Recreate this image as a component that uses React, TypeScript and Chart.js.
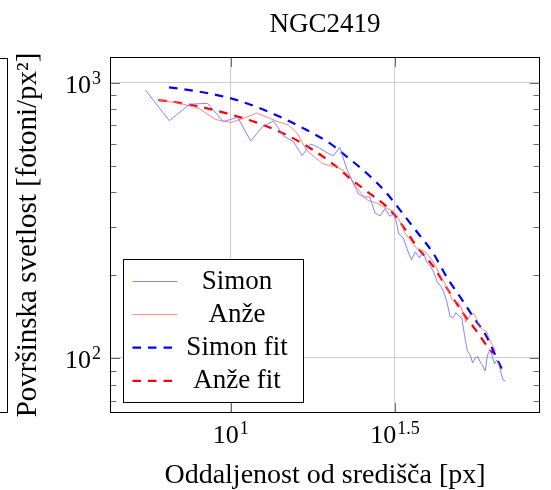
import React, { useEffect, useRef } from 'react';
import { Chart, registerables } from 'chart.js';

Chart.register(...registerables);

const FONT = "'Liberation Serif', 'Times New Roman', serif";

// ---- data ----
const simonRadius = [
  5.5, 6.5, 7.5, 8.5, 9.5, 10.5, 11.5, 12.5, 13.5, 14.5, 15.5, 16.5, 17.5, 18.5, 19.5, 20.5,
  21.5, 22.5, 23.5, 24.5, 25.5, 26.5, 27.5, 28.5, 29.5, 30.5, 31.5, 32.5, 33.5, 34.5, 35.5, 36.5,
  37.5, 38.5, 39.5, 40.5, 41.5, 42.5, 43.5, 44.5, 45.5, 46.5, 47.5, 48.5, 49.5, 50.5, 51.5, 52.5,
  53.5, 54.5, 55.5, 56.5, 57.5, 58.5, 59.5, 60.5, 61.5, 62.5, 63.5, 64.5, 65.5, 66.5, 67.5, 68.5,
];
const simonBrightness = [
  941, 728, 835, 842, 722, 749, 614, 692, 726, 640, 611, 544, 599, 582, 560, 542,
  582, 490, 436, 394, 384, 385, 336, 328, 349, 327, 336, 282, 273, 247, 227, 243,
  231, 243, 223, 216, 205, 189, 183, 174, 160, 142, 140, 146, 142, 140, 121, 106,
  103, 95.9, 100, 101, 96.7, 93.5, 89.7, 102.5, 107, 101.7, 95.1, 98.3, 95.1, 88.2, 83.2, 82.5,
];
const anzeRadius = [
  6, 7, 8, 9, 10, 11, 12, 13, 14, 15, 16, 17, 18, 19, 20, 21, 22, 23, 24, 25,
  26, 27, 28, 29, 30, 31, 32, 33, 34, 35, 36, 37, 38, 39, 40, 41, 42, 43, 44, 45,
  46, 47, 48, 49, 50, 51, 52, 53, 54, 55, 56, 57, 58, 59, 60, 61, 62, 63, 64,
];
const anzeBrightness = [
  865, 842, 806, 735, 717, 744, 776, 747, 720, 702, 651, 569, 537, 509, 500, 495, 480, 458, 421, 396,
  375, 369, 364, 355, 349, 343, 331, 307, 283, 271, 259, 249, 246, 244, 235, 227, 216, 204, 194, 186,
  175, 165, 160, 160, 155, 146, 135, 140, 144, 145, 139, 131, 128, 126, 125, 119, 114, 110, 106,
];
const simonFitRadius = [
  6.49, 7.69, 8.85, 10.43, 12.28, 14.13, 17.03, 20.05, 22.54, 25.94, 29.83, 32.74, 36.81, 41.36,
  45.43, 49.86, 54.74, 60.14, 64.5, 68.04,
];
const simonFitBrightness = [
  962, 935, 908, 865, 807, 752, 673, 602, 539, 469, 397, 345, 288, 240, 197, 167, 141, 119.5, 99.8, 87.5,
];
const anzeFitRadius = [
  6.02, 6.93, 7.88, 9.72, 12.0, 14.8, 17.84, 21.01, 23.07, 25.62, 30.53, 34.33, 36.81, 41.36,
  46.5, 51.05, 56.07, 61.53, 62.97,
];
const anzeFitBrightness = [
  865, 846, 823, 774, 716, 646, 569, 495, 449, 408, 345, 288, 254, 215, 172, 145, 125, 107, 104,
];

const seriesLabels = ['Simon', 'Anže', 'Simon fit', 'Anže fit'];
const chartTitle = 'NGC2419';
const xTitle = 'Oddaljenost od središča [px]';
const yTitle = 'Površinska svetlost [fotoni/px²]';

const xTickValues = [10, 31.6227766];
const xTickBase = ['10', '10'];
const xTickExponents = ['1', '1.5'];
const yTickValues = [100, 1000];
const yTickBase = ['10', '10'];
const yTickExponents = ['2', '3'];
const yMinorTickValues = [70, 80, 90, 200, 300, 400, 500, 600, 700, 800, 900];
const xRange = [4.29, 87.4];
const yRange = [63.1, 1240];

const pts = (xs: number[], ys: number[]) => xs.map((x, i) => ({ x, y: ys[i] }));

function drawPower(ctx: CanvasRenderingContext2D, base: string, exp: string, x: number, baseline: number, align: 'center' | 'right') {
  ctx.font = `26px ${FONT}`;
  const wb = ctx.measureText(base).width;
  ctx.font = `18px ${FONT}`;
  const we = ctx.measureText(exp).width;
  const total = wb + we + 1;
  const sx = align === 'center' ? x - total / 2 : x - total;
  ctx.textAlign = 'left';
  ctx.textBaseline = 'alphabetic';
  ctx.font = `26px ${FONT}`;
  ctx.fillText(base, sx, baseline);
  ctx.font = `18px ${FONT}`;
  ctx.fillText(exp, sx + wb + 1, baseline - 9);
}

const decorPlugin = {
  id: 'decor',
  afterDatasetsDraw(chart: any) {
    const { ctx, chartArea: ca, scales } = chart;
    const xs = scales.x;
    const ys = scales.y;
    ctx.save();
    // tick marks (inward, both sides)
    ctx.lineWidth = 1;
    ctx.strokeStyle = '#6a6a6a';
    const hTick = (v: number, len: number) => {
      const py = Math.round(ys.getPixelForValue(v)) + 0.5;
      ctx.beginPath();
      ctx.moveTo(ca.left, py);
      ctx.lineTo(ca.left + len, py);
      ctx.moveTo(ca.right, py);
      ctx.lineTo(ca.right - len, py);
      ctx.stroke();
    };
    yMinorTickValues.forEach((v) => hTick(v, 6.5));
    yTickValues.forEach((v) => hTick(v, 10));
    xTickValues.forEach((v) => {
      const px = Math.round(xs.getPixelForValue(v)) + 0.5;
      ctx.beginPath();
      ctx.moveTo(px, ca.bottom);
      ctx.lineTo(px, ca.bottom - 10);
      ctx.moveTo(px, ca.top);
      ctx.lineTo(px, ca.top + 10);
      ctx.stroke();
    });
    // axis box
    ctx.strokeStyle = '#000';
    ctx.strokeRect(Math.round(ca.left) + 0.5, Math.round(ca.top) + 0.5, Math.round(ca.right - ca.left) - 1, Math.round(ca.bottom - ca.top) - 1);
    // tick labels
    ctx.fillStyle = '#000';
    xTickValues.forEach((v, i) => {
      drawPower(ctx, xTickBase[i], xTickExponents[i], xs.getPixelForValue(v), ca.bottom + 30, 'center');
    });
    yTickValues.forEach((v, i) => {
      drawPower(ctx, yTickBase[i], yTickExponents[i], ca.left - 9, ys.getPixelForValue(v) + 10, 'right');
    });
    // legend
    const bw = 180;
    const bh = 143;
    const bx = Math.round(ca.left + 12.5) + 0.5;
    const by = Math.round(ca.bottom - 11.5 - bh) + 0.5;
    ctx.fillStyle = '#fff';
    ctx.fillRect(bx, by, bw, bh);
    ctx.strokeStyle = '#000';
    ctx.lineWidth = 1;
    ctx.setLineDash([]);
    ctx.strokeRect(bx, by, bw, bh);
    chart.data.datasets.forEach((ds: any, i: number) => {
      const ry = by + 22 + i * 33.1;
      ctx.save();
      ctx.strokeStyle = ds.borderColor;
      ctx.lineWidth = ds.borderWidth;
      ctx.setLineDash(ds.borderDash || []);
      ctx.beginPath();
      ctx.moveTo(bx + 9, ry);
      ctx.lineTo(bx + 54, ry);
      ctx.stroke();
      ctx.restore();
      ctx.fillStyle = '#000';
      ctx.font = `27px ${FONT}`;
      ctx.textAlign = 'center';
      ctx.textBaseline = 'alphabetic';
      ctx.fillText(ds.label, bx + 113.5, ry + 7);
    });
    ctx.restore();
  },
};

export default function App() {
  const ref = useRef<HTMLCanvasElement>(null);
  useEffect(() => {
    if (!ref.current) return;
    const chart = new Chart(ref.current, {
      type: 'line',
      data: {
        datasets: [
          {
            label: seriesLabels[0],
            data: pts(simonRadius, simonBrightness),
            borderColor: 'rgba(110,110,255,0.85)',
            borderWidth: 1,
            pointRadius: 0,
            tension: 0,
          },
          {
            label: seriesLabels[1],
            data: pts(anzeRadius, anzeBrightness),
            borderColor: 'rgba(255,110,110,0.85)',
            borderWidth: 1,
            pointRadius: 0,
            tension: 0,
          },
          {
            label: seriesLabels[2],
            data: pts(simonFitRadius, simonFitBrightness),
            borderColor: '#0000ff',
            borderWidth: 2.2,
            borderDash: [8.5, 7],
            pointRadius: 0,
            cubicInterpolationMode: 'monotone',
          },
          {
            label: seriesLabels[3],
            data: pts(anzeFitRadius, anzeFitBrightness),
            borderColor: '#ff0000',
            borderWidth: 2.2,
            borderDash: [8.5, 7],
            pointRadius: 0,
            cubicInterpolationMode: 'monotone',
          },
        ],
      },
      options: {
        animation: false,
        responsive: false,
        devicePixelRatio: 1,
        layout: { padding: { left: 0, right: 11, top: 0, bottom: 0 } },
        plugins: {
          legend: { display: false },
          tooltip: { enabled: false },
          title: {
            display: true,
            fullSize: false,
            text: chartTitle,
            color: '#000',
            font: { family: FONT, size: 27, weight: 'normal', lineHeight: 1.2 },
            padding: { top: 8.8, bottom: 15.8 },
          },
        },
        scales: {
          x: {
            type: 'logarithmic',
            min: xRange[0],
            max: xRange[1],
            afterBuildTicks: (s: any) => {
              s.ticks = xTickValues.map((v) => ({ value: v }));
            },
            ticks: { display: false },
            grid: { color: '#cdcdcd', lineWidth: 1, drawTicks: false },
            border: { display: false },
            title: {
              display: true,
              text: xTitle,
              color: '#000',
              font: { family: FONT, size: 28, lineHeight: 1 },
              padding: { top: 49, bottom: 0 },
            },
          },
          y: {
            type: 'logarithmic',
            min: yRange[0],
            max: yRange[1],
            afterBuildTicks: (s: any) => {
              s.ticks = yTickValues.map((v) => ({ value: v }));
            },
            ticks: { display: false },
            grid: { color: '#cdcdcd', lineWidth: 1, drawTicks: false },
            border: { display: false },
            title: {
              display: true,
              text: yTitle,
              color: '#000',
              font: { family: FONT, size: 29, lineHeight: 1 },
              padding: { top: 13.5, bottom: 67.5 },
            },
          },
        },
      },
      plugins: [decorPlugin],
    } as any);
    return () => chart.destroy();
  }, []);
  return (
    <div style={{ position: 'absolute', left: 0, top: 0, width: 551, height: 490, background: '#fff' }}>
      <div
        style={{
          position: 'absolute',
          left: -2,
          top: 58,
          width: 9,
          height: 353,
          borderRight: '1px solid #000',
          borderTop: '1px solid #000',
          borderBottom: '1px solid #000',
        }}
      />
      <canvas ref={ref} width={551} height={490} style={{ display: 'block', position: 'absolute', left: 0, top: 0 }} />
    </div>
  );
}
